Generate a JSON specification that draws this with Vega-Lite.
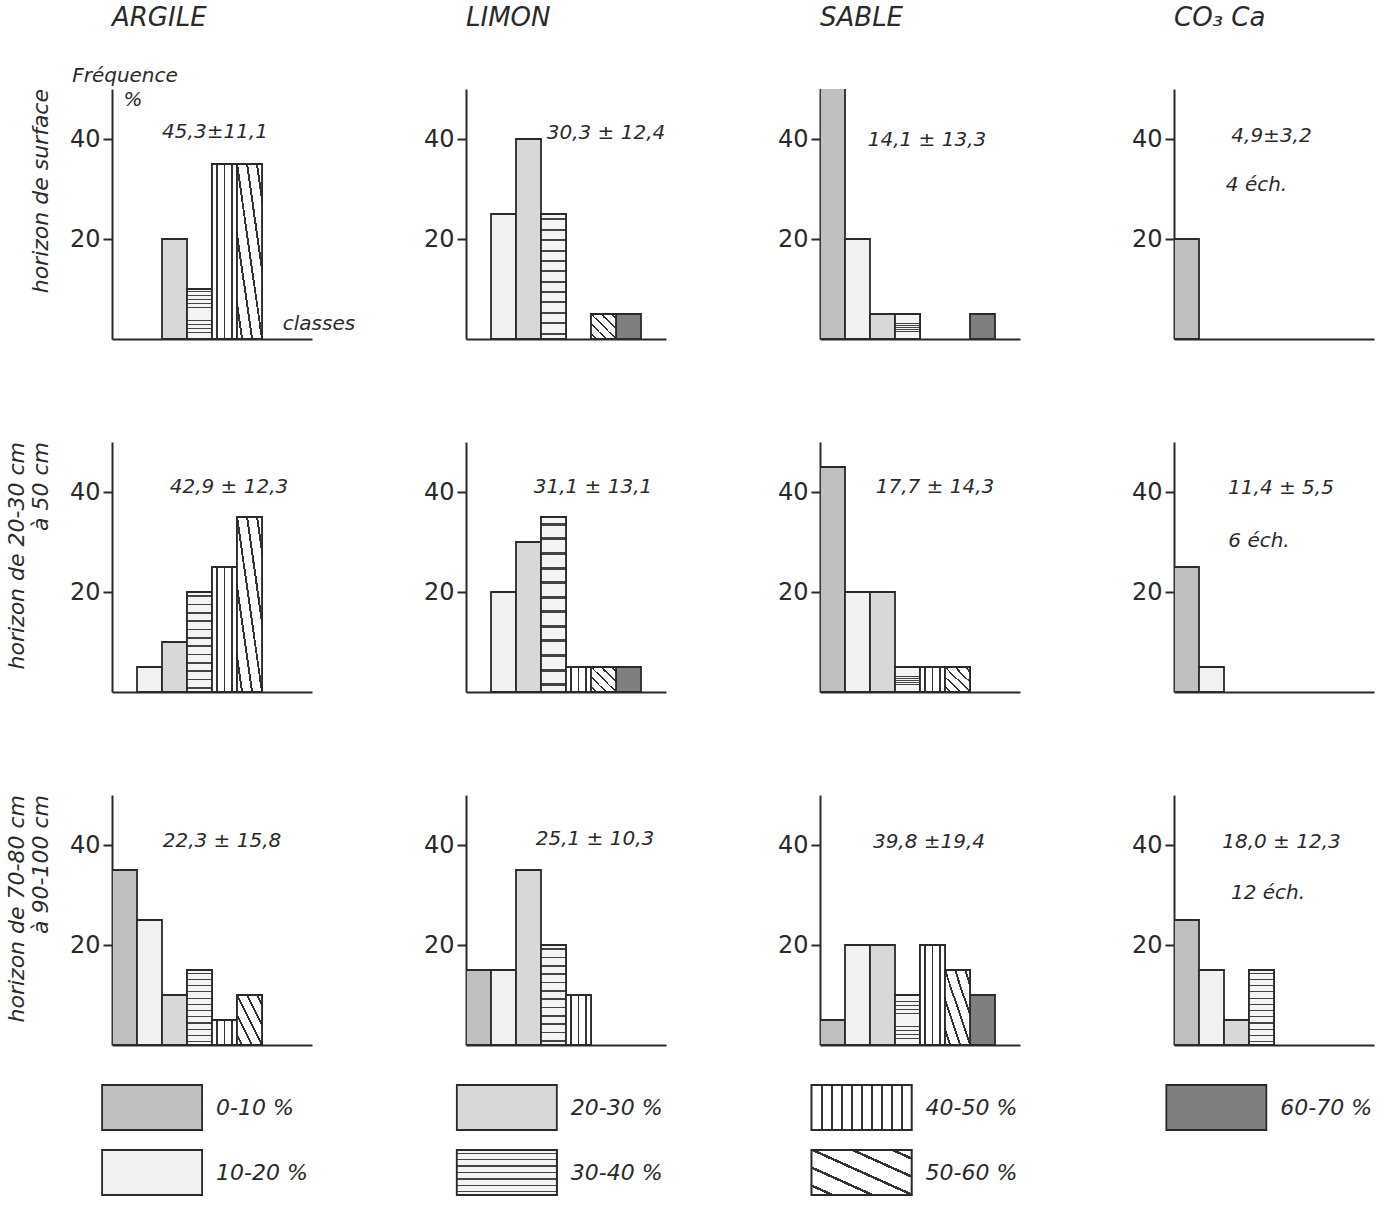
{
  "$schema": "https://vega.github.io/schema/vega-lite/v6.json",
  "background": "white",
  "padding": {"left": 5, "top": 5, "right": 5, "bottom": 5},
  "spacing": 30,
  "vconcat": [
    {
      "data": {"values": [
        {"horizon": "horizon de surface", "comp": "ARGILE", "classe": "20-30 %", "lo": 20, "hi": 30, "freq": 20},
        {"horizon": "horizon de surface", "comp": "ARGILE", "classe": "30-40 %", "lo": 30, "hi": 40, "freq": 10},
        {"horizon": "horizon de surface", "comp": "ARGILE", "classe": "40-50 %", "lo": 40, "hi": 50, "freq": 35},
        {"horizon": "horizon de surface", "comp": "ARGILE", "classe": "50-60 %", "lo": 50, "hi": 60, "freq": 35},
        {"horizon": "horizon de surface", "comp": "LIMON", "classe": "10-20 %", "lo": 10, "hi": 20, "freq": 25},
        {"horizon": "horizon de surface", "comp": "LIMON", "classe": "20-30 %", "lo": 20, "hi": 30, "freq": 40},
        {"horizon": "horizon de surface", "comp": "LIMON", "classe": "30-40 %", "lo": 30, "hi": 40, "freq": 25},
        {"horizon": "horizon de surface", "comp": "LIMON", "classe": "50-60 %", "lo": 50, "hi": 60, "freq": 5},
        {"horizon": "horizon de surface", "comp": "LIMON", "classe": "60-70 %", "lo": 60, "hi": 70, "freq": 5},
        {"horizon": "horizon de surface", "comp": "SABLE", "classe": "0-10 %", "lo": 0, "hi": 10, "freq": 65},
        {"horizon": "horizon de surface", "comp": "SABLE", "classe": "10-20 %", "lo": 10, "hi": 20, "freq": 20},
        {"horizon": "horizon de surface", "comp": "SABLE", "classe": "20-30 %", "lo": 20, "hi": 30, "freq": 5},
        {"horizon": "horizon de surface", "comp": "SABLE", "classe": "30-40 %", "lo": 30, "hi": 40, "freq": 5},
        {"horizon": "horizon de surface", "comp": "SABLE", "classe": "60-70 %", "lo": 60, "hi": 70, "freq": 5},
        {"horizon": "horizon de surface", "comp": "CO₃ Ca", "classe": "0-10 %", "lo": 0, "hi": 10, "freq": 20},
        {"horizon": "horizon de 20-30 cm|à 50 cm", "comp": "ARGILE", "classe": "10-20 %", "lo": 10, "hi": 20, "freq": 5},
        {"horizon": "horizon de 20-30 cm|à 50 cm", "comp": "ARGILE", "classe": "20-30 %", "lo": 20, "hi": 30, "freq": 10},
        {"horizon": "horizon de 20-30 cm|à 50 cm", "comp": "ARGILE", "classe": "30-40 %", "lo": 30, "hi": 40, "freq": 20},
        {"horizon": "horizon de 20-30 cm|à 50 cm", "comp": "ARGILE", "classe": "40-50 %", "lo": 40, "hi": 50, "freq": 25},
        {"horizon": "horizon de 20-30 cm|à 50 cm", "comp": "ARGILE", "classe": "50-60 %", "lo": 50, "hi": 60, "freq": 35},
        {"horizon": "horizon de 20-30 cm|à 50 cm", "comp": "LIMON", "classe": "10-20 %", "lo": 10, "hi": 20, "freq": 20},
        {"horizon": "horizon de 20-30 cm|à 50 cm", "comp": "LIMON", "classe": "20-30 %", "lo": 20, "hi": 30, "freq": 30},
        {"horizon": "horizon de 20-30 cm|à 50 cm", "comp": "LIMON", "classe": "30-40 %", "lo": 30, "hi": 40, "freq": 35},
        {"horizon": "horizon de 20-30 cm|à 50 cm", "comp": "LIMON", "classe": "40-50 %", "lo": 40, "hi": 50, "freq": 5},
        {"horizon": "horizon de 20-30 cm|à 50 cm", "comp": "LIMON", "classe": "50-60 %", "lo": 50, "hi": 60, "freq": 5},
        {"horizon": "horizon de 20-30 cm|à 50 cm", "comp": "LIMON", "classe": "60-70 %", "lo": 60, "hi": 70, "freq": 5},
        {"horizon": "horizon de 20-30 cm|à 50 cm", "comp": "SABLE", "classe": "0-10 %", "lo": 0, "hi": 10, "freq": 45},
        {"horizon": "horizon de 20-30 cm|à 50 cm", "comp": "SABLE", "classe": "10-20 %", "lo": 10, "hi": 20, "freq": 20},
        {"horizon": "horizon de 20-30 cm|à 50 cm", "comp": "SABLE", "classe": "20-30 %", "lo": 20, "hi": 30, "freq": 20},
        {"horizon": "horizon de 20-30 cm|à 50 cm", "comp": "SABLE", "classe": "30-40 %", "lo": 30, "hi": 40, "freq": 5},
        {"horizon": "horizon de 20-30 cm|à 50 cm", "comp": "SABLE", "classe": "40-50 %", "lo": 40, "hi": 50, "freq": 5},
        {"horizon": "horizon de 20-30 cm|à 50 cm", "comp": "SABLE", "classe": "50-60 %", "lo": 50, "hi": 60, "freq": 5},
        {"horizon": "horizon de 20-30 cm|à 50 cm", "comp": "CO₃ Ca", "classe": "0-10 %", "lo": 0, "hi": 10, "freq": 25},
        {"horizon": "horizon de 20-30 cm|à 50 cm", "comp": "CO₃ Ca", "classe": "10-20 %", "lo": 10, "hi": 20, "freq": 5},
        {"horizon": "horizon de 70-80 cm|à 90-100 cm", "comp": "ARGILE", "classe": "0-10 %", "lo": 0, "hi": 10, "freq": 35},
        {"horizon": "horizon de 70-80 cm|à 90-100 cm", "comp": "ARGILE", "classe": "10-20 %", "lo": 10, "hi": 20, "freq": 25},
        {"horizon": "horizon de 70-80 cm|à 90-100 cm", "comp": "ARGILE", "classe": "20-30 %", "lo": 20, "hi": 30, "freq": 10},
        {"horizon": "horizon de 70-80 cm|à 90-100 cm", "comp": "ARGILE", "classe": "30-40 %", "lo": 30, "hi": 40, "freq": 15},
        {"horizon": "horizon de 70-80 cm|à 90-100 cm", "comp": "ARGILE", "classe": "40-50 %", "lo": 40, "hi": 50, "freq": 5},
        {"horizon": "horizon de 70-80 cm|à 90-100 cm", "comp": "ARGILE", "classe": "50-60 %", "lo": 50, "hi": 60, "freq": 10},
        {"horizon": "horizon de 70-80 cm|à 90-100 cm", "comp": "LIMON", "classe": "0-10 %", "lo": 0, "hi": 10, "freq": 15},
        {"horizon": "horizon de 70-80 cm|à 90-100 cm", "comp": "LIMON", "classe": "10-20 %", "lo": 10, "hi": 20, "freq": 15},
        {"horizon": "horizon de 70-80 cm|à 90-100 cm", "comp": "LIMON", "classe": "20-30 %", "lo": 20, "hi": 30, "freq": 35},
        {"horizon": "horizon de 70-80 cm|à 90-100 cm", "comp": "LIMON", "classe": "30-40 %", "lo": 30, "hi": 40, "freq": 20},
        {"horizon": "horizon de 70-80 cm|à 90-100 cm", "comp": "LIMON", "classe": "40-50 %", "lo": 40, "hi": 50, "freq": 10},
        {"horizon": "horizon de 70-80 cm|à 90-100 cm", "comp": "SABLE", "classe": "0-10 %", "lo": 0, "hi": 10, "freq": 5},
        {"horizon": "horizon de 70-80 cm|à 90-100 cm", "comp": "SABLE", "classe": "10-20 %", "lo": 10, "hi": 20, "freq": 20},
        {"horizon": "horizon de 70-80 cm|à 90-100 cm", "comp": "SABLE", "classe": "20-30 %", "lo": 20, "hi": 30, "freq": 20},
        {"horizon": "horizon de 70-80 cm|à 90-100 cm", "comp": "SABLE", "classe": "30-40 %", "lo": 30, "hi": 40, "freq": 10},
        {"horizon": "horizon de 70-80 cm|à 90-100 cm", "comp": "SABLE", "classe": "40-50 %", "lo": 40, "hi": 50, "freq": 20},
        {"horizon": "horizon de 70-80 cm|à 90-100 cm", "comp": "SABLE", "classe": "50-60 %", "lo": 50, "hi": 60, "freq": 15},
        {"horizon": "horizon de 70-80 cm|à 90-100 cm", "comp": "SABLE", "classe": "60-70 %", "lo": 60, "hi": 70, "freq": 10},
        {"horizon": "horizon de 70-80 cm|à 90-100 cm", "comp": "CO₃ Ca", "classe": "0-10 %", "lo": 0, "hi": 10, "freq": 25},
        {"horizon": "horizon de 70-80 cm|à 90-100 cm", "comp": "CO₃ Ca", "classe": "10-20 %", "lo": 10, "hi": 20, "freq": 15},
        {"horizon": "horizon de 70-80 cm|à 90-100 cm", "comp": "CO₃ Ca", "classe": "20-30 %", "lo": 20, "hi": 30, "freq": 5},
        {"horizon": "horizon de 70-80 cm|à 90-100 cm", "comp": "CO₃ Ca", "classe": "30-40 %", "lo": 30, "hi": 40, "freq": 15},
        {"horizon": "horizon de surface", "comp": "ARGILE", "label": "45,3±11,1", "lx": 41.2, "ly": 41.4},
        {"horizon": "horizon de surface", "comp": "ARGILE", "label": "Fréquence", "lx": 5.2, "ly": 52.6},
        {"horizon": "horizon de surface", "comp": "ARGILE", "label": "%", "lx": 8.4, "ly": 47.9},
        {"horizon": "horizon de surface", "comp": "ARGILE", "label": "classes", "lx": 82.8, "ly": 3},
        {"horizon": "horizon de surface", "comp": "LIMON", "label": "30,3 ± 12,4", "lx": 56, "ly": 41.2},
        {"horizon": "horizon de surface", "comp": "SABLE", "label": "14,1 ± 13,3", "lx": 42.8, "ly": 39.8},
        {"horizon": "horizon de surface", "comp": "CO₃ Ca", "label": "4,9±3,2", "lx": 39, "ly": 40.7},
        {"horizon": "horizon de surface", "comp": "CO₃ Ca", "label": "4 éch.", "lx": 33, "ly": 30.9},
        {"horizon": "horizon de 20-30 cm|à 50 cm", "comp": "ARGILE", "label": "42,9 ± 12,3", "lx": 46.8, "ly": 41},
        {"horizon": "horizon de 20-30 cm|à 50 cm", "comp": "LIMON", "label": "31,1 ± 13,1", "lx": 50.8, "ly": 41},
        {"horizon": "horizon de 20-30 cm|à 50 cm", "comp": "SABLE", "label": "17,7 ± 14,3", "lx": 46, "ly": 41},
        {"horizon": "horizon de 20-30 cm|à 50 cm", "comp": "CO₃ Ca", "label": "11,4 ± 5,5", "lx": 42.8, "ly": 40.8},
        {"horizon": "horizon de 20-30 cm|à 50 cm", "comp": "CO₃ Ca", "label": "6 éch.", "lx": 34, "ly": 30.3},
        {"horizon": "horizon de 70-80 cm|à 90-100 cm", "comp": "ARGILE", "label": "22,3 ± 15,8", "lx": 44, "ly": 40.8},
        {"horizon": "horizon de 70-80 cm|à 90-100 cm", "comp": "LIMON", "label": "25,1 ± 10,3", "lx": 51.6, "ly": 41.2},
        {"horizon": "horizon de 70-80 cm|à 90-100 cm", "comp": "SABLE", "label": "39,8 ±19,4", "lx": 43.6, "ly": 40.6},
        {"horizon": "horizon de 70-80 cm|à 90-100 cm", "comp": "CO₃ Ca", "label": "18,0 ± 12,3", "lx": 43, "ly": 40.6},
        {"horizon": "horizon de 70-80 cm|à 90-100 cm", "comp": "CO₃ Ca", "label": "12 éch.", "lx": 37.6, "ly": 30.4}
      ]},
      "facet": {
        "column": {
          "field": "comp", "type": "nominal", "title": null,
          "sort": ["ARGILE", "LIMON", "SABLE", "CO₃ Ca"],
          "header": {"labelFont": "DejaVu Sans", "labelFontStyle": "italic", "labelFontSize": 26, "labelColor": "#2a2a2a", "labelAnchor": "start", "labelAlign": "left", "labelPadding": 34}
        },
        "row": {
          "field": "horizon", "type": "nominal", "title": null,
          "sort": ["horizon de surface", "horizon de 20-30 cm|à 50 cm", "horizon de 70-80 cm|à 90-100 cm"],
          "header": {"labelExpr": "split(datum.value, '|')", "labelFont": "DejaVu Sans", "labelFontStyle": "italic", "labelFontSize": 22, "labelColor": "#2a2a2a", "labelAngle": -90, "labelAlign": "right", "labelAnchor": "end", "labelPadding": 6, "labelLineHeight": 24}
        }
      },
      "spacing": {"column": 67, "row": 103},
      "resolve": {"axis": {"x": "independent", "y": "independent"}},
      "spec": {
        "width": 200,
        "height": 250,
        "layer": [
          {
            "transform": [{"filter": "datum.freq != null"}],
            "encoding": {
              "x": {"field": "lo", "type": "quantitative", "scale": {"domain": [0, 80], "nice": false},
                    "axis": {"labels": false, "ticks": false, "grid": false, "title": null, "domainColor": "#2a2a2a", "domainWidth": 2}},
              "x2": {"field": "hi"},
              "y": {"field": "freq", "type": "quantitative", "scale": {"domain": [0, 50], "nice": false},
                    "axis": {"values": [20, 40], "grid": false, "title": null, "tickSize": 9, "tickWidth": 2, "tickColor": "#2a2a2a", "domainColor": "#2a2a2a", "domainWidth": 2, "labelFont": "DejaVu Sans", "labelFontSize": 24, "labelColor": "#2a2a2a", "labelPadding": 3}},
              "y2": {"datum": 0}
            },
            "layer": [
              {
                "mark": {"type": "rect", "stroke": "#2a2a2a", "strokeWidth": 1.8, "clip": true},
                "encoding": {
                  "color": {"field": "classe", "type": "nominal", "legend": null,
                    "scale": {"domain": ["0-10 %", "10-20 %", "20-30 %", "30-40 %", "40-50 %", "50-60 %", "60-70 %"],
                              "range": ["#c0c0c0", "#f1f1f1", "#d8d8d8", "#f4f4f4", "#ffffff", "#ffffff", "#7f7f7f"]}}
                }
              },
              {
                "transform": [{"filter": "datum.classe == '30-40 %'"}],
                "mark": {"type": "rect", "stroke": "#2a2a2a", "strokeWidth": 1.8, "clip": true,
                  "fill": {"gradient": "linear", "x1": 0, "y1": 0, "x2": 0, "y2": 1, "stops": [
                    {"offset": 0, "color": "#f4f4f4"},
                    {"offset": 0.034, "color": "#f4f4f4"}, {"offset": 0.034, "color": "#444444"}, {"offset": 0.05, "color": "#444444"}, {"offset": 0.05, "color": "#f4f4f4"},
                    {"offset": 0.117, "color": "#f4f4f4"}, {"offset": 0.117, "color": "#444444"}, {"offset": 0.133, "color": "#444444"}, {"offset": 0.133, "color": "#f4f4f4"},
                    {"offset": 0.2, "color": "#f4f4f4"}, {"offset": 0.2, "color": "#444444"}, {"offset": 0.216, "color": "#444444"}, {"offset": 0.216, "color": "#f4f4f4"},
                    {"offset": 0.284, "color": "#f4f4f4"}, {"offset": 0.284, "color": "#444444"}, {"offset": 0.3, "color": "#444444"}, {"offset": 0.3, "color": "#f4f4f4"},
                    {"offset": 0.367, "color": "#f4f4f4"}, {"offset": 0.367, "color": "#444444"}, {"offset": 0.383, "color": "#444444"}, {"offset": 0.383, "color": "#f4f4f4"},
                    {"offset": 0.45, "color": "#f4f4f4"}, {"offset": 0.45, "color": "#444444"}, {"offset": 0.466, "color": "#444444"}, {"offset": 0.466, "color": "#f4f4f4"},
                    {"offset": 0.534, "color": "#f4f4f4"}, {"offset": 0.534, "color": "#444444"}, {"offset": 0.55, "color": "#444444"}, {"offset": 0.55, "color": "#f4f4f4"},
                    {"offset": 0.617, "color": "#f4f4f4"}, {"offset": 0.617, "color": "#444444"}, {"offset": 0.633, "color": "#444444"}, {"offset": 0.633, "color": "#f4f4f4"},
                    {"offset": 0.7, "color": "#f4f4f4"}, {"offset": 0.7, "color": "#444444"}, {"offset": 0.716, "color": "#444444"}, {"offset": 0.716, "color": "#f4f4f4"},
                    {"offset": 0.784, "color": "#f4f4f4"}, {"offset": 0.784, "color": "#444444"}, {"offset": 0.8, "color": "#444444"}, {"offset": 0.8, "color": "#f4f4f4"},
                    {"offset": 0.867, "color": "#f4f4f4"}, {"offset": 0.867, "color": "#444444"}, {"offset": 0.883, "color": "#444444"}, {"offset": 0.883, "color": "#f4f4f4"},
                    {"offset": 0.95, "color": "#f4f4f4"}, {"offset": 0.95, "color": "#444444"}, {"offset": 0.966, "color": "#444444"}, {"offset": 0.966, "color": "#f4f4f4"},
                    {"offset": 1, "color": "#f4f4f4"}]}}
              },
              {
                "transform": [{"filter": "datum.classe == '40-50 %'"}],
                "mark": {"type": "rect", "stroke": "#2a2a2a", "strokeWidth": 1.8, "clip": true,
                  "fill": {"gradient": "linear", "x1": 0, "y1": 0, "x2": 1, "y2": 0, "stops": [
                    {"offset": 0, "color": "#ffffff"}, {"offset": 0.17, "color": "#ffffff"}, {"offset": 0.17, "color": "#333333"}, {"offset": 0.23, "color": "#333333"}, {"offset": 0.23, "color": "#ffffff"},
                    {"offset": 0.47, "color": "#ffffff"}, {"offset": 0.47, "color": "#333333"}, {"offset": 0.53, "color": "#333333"}, {"offset": 0.53, "color": "#ffffff"},
                    {"offset": 0.77, "color": "#ffffff"}, {"offset": 0.77, "color": "#333333"}, {"offset": 0.83, "color": "#333333"}, {"offset": 0.83, "color": "#ffffff"}, {"offset": 1, "color": "#ffffff"}]}}
              },
              {
                "transform": [{"filter": "datum.classe == '50-60 %'"}],
                "mark": {"type": "rect", "stroke": "#2a2a2a", "strokeWidth": 1.8, "clip": true,
                  "fill": {"gradient": "linear", "x1": 1, "y1": 0, "x2": 0, "y2": 1, "stops": [
                    {"offset": 0, "color": "#ffffff"},
                    {"offset": 0.08, "color": "#ffffff"}, {"offset": 0.08, "color": "#333333"}, {"offset": 0.12, "color": "#333333"}, {"offset": 0.12, "color": "#ffffff"},
                    {"offset": 0.28, "color": "#ffffff"}, {"offset": 0.28, "color": "#333333"}, {"offset": 0.32, "color": "#333333"}, {"offset": 0.32, "color": "#ffffff"},
                    {"offset": 0.48, "color": "#ffffff"}, {"offset": 0.48, "color": "#333333"}, {"offset": 0.52, "color": "#333333"}, {"offset": 0.52, "color": "#ffffff"},
                    {"offset": 0.68, "color": "#ffffff"}, {"offset": 0.68, "color": "#333333"}, {"offset": 0.72, "color": "#333333"}, {"offset": 0.72, "color": "#ffffff"},
                    {"offset": 0.88, "color": "#ffffff"}, {"offset": 0.88, "color": "#333333"}, {"offset": 0.92, "color": "#333333"}, {"offset": 0.92, "color": "#ffffff"},
                    {"offset": 1, "color": "#ffffff"}]}}
              }
            ]
          },
          {
            "transform": [{"filter": "datum.label != null"}],
            "mark": {"type": "text", "font": "DejaVu Sans", "fontStyle": "italic", "fontSize": 20, "color": "#2a2a2a", "align": "center", "baseline": "middle"},
            "encoding": {
              "x": {"field": "lx", "type": "quantitative", "title": null},
              "y": {"field": "ly", "type": "quantitative", "title": null},
              "text": {"field": "label"}
            }
          }
        ]
      }
    },
    {
      "width": 1270,
      "height": 130,
      "data": {"values": [
        {"classe": "0-10 %", "lo": 0},
        {"classe": "10-20 %", "lo": 10},
        {"classe": "20-30 %", "lo": 20},
        {"classe": "30-40 %", "lo": 30},
        {"classe": "40-50 %", "lo": 40},
        {"classe": "50-60 %", "lo": 50},
        {"classe": "60-70 %", "lo": 60}
      ]},
      "transform": [
        {"calculate": "floor(datum.lo / 20)", "as": "col"},
        {"calculate": "(datum.lo / 10) % 2", "as": "row"}
      ],
      "encoding": {
        "x": {"field": "col", "type": "quantitative", "scale": {"domain": [-0.113, 3.467], "nice": false, "zero": false}, "axis": null},
        "y": {"field": "row", "type": "quantitative", "scale": {"domain": [-0.5, 1.5], "nice": false, "zero": false, "reverse": true}, "axis": null}
      },
      "layer": [
        {
          "mark": {"type": "point", "shape": "M-1,-0.45H1V0.45H-1Z", "size": 10000, "filled": true, "opacity": 1, "stroke": "#2a2a2a", "strokeWidth": 1.8},
          "encoding": {
            "color": {"field": "classe", "type": "nominal", "legend": null,
              "scale": {"domain": ["0-10 %", "10-20 %", "20-30 %", "30-40 %", "40-50 %", "50-60 %", "60-70 %"],
                        "range": ["#c0c0c0", "#f1f1f1", "#d8d8d8", "#f4f4f4", "#ffffff", "#ffffff", "#7f7f7f"]}}
          }
        },
        {
          "transform": [{"filter": "datum.classe == '30-40 %'"}],
          "mark": {"type": "point", "shape": "M-1,-0.45H1V0.45H-1Z", "size": 10000, "filled": true, "opacity": 1, "stroke": "#2a2a2a", "strokeWidth": 1.8,
            "fill": {"gradient": "linear", "x1": 0, "y1": 0, "x2": 0, "y2": 1, "stops": [
              {"offset": 0, "color": "#f4f4f4"},
              {"offset": 0.057, "color": "#f4f4f4"}, {"offset": 0.057, "color": "#444444"}, {"offset": 0.086, "color": "#444444"}, {"offset": 0.086, "color": "#f4f4f4"},
              {"offset": 0.2, "color": "#f4f4f4"}, {"offset": 0.2, "color": "#444444"}, {"offset": 0.229, "color": "#444444"}, {"offset": 0.229, "color": "#f4f4f4"},
              {"offset": 0.343, "color": "#f4f4f4"}, {"offset": 0.343, "color": "#444444"}, {"offset": 0.372, "color": "#444444"}, {"offset": 0.372, "color": "#f4f4f4"},
              {"offset": 0.486, "color": "#f4f4f4"}, {"offset": 0.486, "color": "#444444"}, {"offset": 0.515, "color": "#444444"}, {"offset": 0.515, "color": "#f4f4f4"},
              {"offset": 0.629, "color": "#f4f4f4"}, {"offset": 0.629, "color": "#444444"}, {"offset": 0.658, "color": "#444444"}, {"offset": 0.658, "color": "#f4f4f4"},
              {"offset": 0.771, "color": "#f4f4f4"}, {"offset": 0.771, "color": "#444444"}, {"offset": 0.8, "color": "#444444"}, {"offset": 0.8, "color": "#f4f4f4"},
              {"offset": 0.914, "color": "#f4f4f4"}, {"offset": 0.914, "color": "#444444"}, {"offset": 0.943, "color": "#444444"}, {"offset": 0.943, "color": "#f4f4f4"},
              {"offset": 1, "color": "#f4f4f4"}]}}
        },
        {
          "transform": [{"filter": "datum.classe == '40-50 %'"}],
          "mark": {"type": "point", "shape": "M-1,-0.45H1V0.45H-1Z", "size": 10000, "filled": true, "opacity": 1, "stroke": "#2a2a2a", "strokeWidth": 1.8,
            "fill": {"gradient": "linear", "x1": 0, "y1": 0, "x2": 1, "y2": 0, "stops": [
              {"offset": 0, "color": "#ffffff"},
              {"offset": 0.09, "color": "#ffffff"}, {"offset": 0.09, "color": "#333333"}, {"offset": 0.11, "color": "#333333"}, {"offset": 0.11, "color": "#ffffff"},
              {"offset": 0.19, "color": "#ffffff"}, {"offset": 0.19, "color": "#333333"}, {"offset": 0.21, "color": "#333333"}, {"offset": 0.21, "color": "#ffffff"},
              {"offset": 0.29, "color": "#ffffff"}, {"offset": 0.29, "color": "#333333"}, {"offset": 0.31, "color": "#333333"}, {"offset": 0.31, "color": "#ffffff"},
              {"offset": 0.39, "color": "#ffffff"}, {"offset": 0.39, "color": "#333333"}, {"offset": 0.41, "color": "#333333"}, {"offset": 0.41, "color": "#ffffff"},
              {"offset": 0.49, "color": "#ffffff"}, {"offset": 0.49, "color": "#333333"}, {"offset": 0.51, "color": "#333333"}, {"offset": 0.51, "color": "#ffffff"},
              {"offset": 0.59, "color": "#ffffff"}, {"offset": 0.59, "color": "#333333"}, {"offset": 0.61, "color": "#333333"}, {"offset": 0.61, "color": "#ffffff"},
              {"offset": 0.69, "color": "#ffffff"}, {"offset": 0.69, "color": "#333333"}, {"offset": 0.71, "color": "#333333"}, {"offset": 0.71, "color": "#ffffff"},
              {"offset": 0.79, "color": "#ffffff"}, {"offset": 0.79, "color": "#333333"}, {"offset": 0.81, "color": "#333333"}, {"offset": 0.81, "color": "#ffffff"},
              {"offset": 0.89, "color": "#ffffff"}, {"offset": 0.89, "color": "#333333"}, {"offset": 0.91, "color": "#333333"}, {"offset": 0.91, "color": "#ffffff"},
              {"offset": 1, "color": "#ffffff"}]}}
        },
        {
          "transform": [{"filter": "datum.classe == '50-60 %'"}],
          "mark": {"type": "point", "shape": "M-1,-0.45H1V0.45H-1Z", "size": 10000, "filled": true, "opacity": 1, "stroke": "#2a2a2a", "strokeWidth": 1.8,
            "fill": {"gradient": "linear", "x1": 1, "y1": 0, "x2": 0, "y2": 1, "stops": [
              {"offset": 0, "color": "#ffffff"},
              {"offset": 0.08, "color": "#ffffff"}, {"offset": 0.08, "color": "#333333"}, {"offset": 0.11, "color": "#333333"}, {"offset": 0.11, "color": "#ffffff"},
              {"offset": 0.28, "color": "#ffffff"}, {"offset": 0.28, "color": "#333333"}, {"offset": 0.31, "color": "#333333"}, {"offset": 0.31, "color": "#ffffff"},
              {"offset": 0.48, "color": "#ffffff"}, {"offset": 0.48, "color": "#333333"}, {"offset": 0.51, "color": "#333333"}, {"offset": 0.51, "color": "#ffffff"},
              {"offset": 0.68, "color": "#ffffff"}, {"offset": 0.68, "color": "#333333"}, {"offset": 0.71, "color": "#333333"}, {"offset": 0.71, "color": "#ffffff"},
              {"offset": 0.88, "color": "#ffffff"}, {"offset": 0.88, "color": "#333333"}, {"offset": 0.91, "color": "#333333"}, {"offset": 0.91, "color": "#ffffff"},
              {"offset": 1, "color": "#ffffff"}]}}
        },
        {
          "mark": {"type": "text", "font": "DejaVu Sans", "fontStyle": "italic", "fontSize": 22, "color": "#2a2a2a", "align": "left", "baseline": "middle", "dx": 64},
          "encoding": {"text": {"field": "classe"}}
        }
      ]
    }
  ],
  "config": {
    "view": {"stroke": null}
  }
}
